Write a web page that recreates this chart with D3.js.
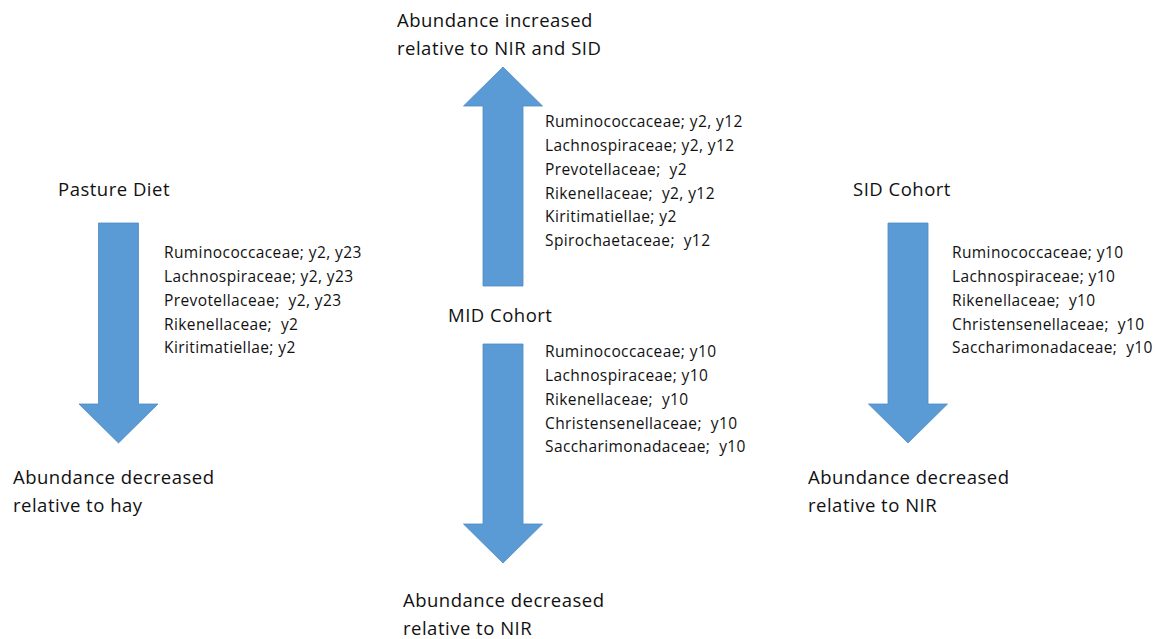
<!DOCTYPE html>
<html><head><meta charset="utf-8">
<script src="https://cdn.jsdelivr.net/npm/d3@7"></script>
<style>body{margin:0;background:#fff}svg{display:block}text{font-family:"Open Sans",Lato,sans-serif;fill:#111}</style>
</head><body><svg id="c" width="1171" height="639"></svg>
<script>
// ---- data ----
const groups = ["Pasture Diet", "MID Cohort (increased)", "MID Cohort (decreased)", "SID Cohort"];
const groupTitles = ["Pasture Diet", null, "MID Cohort", "SID Cohort"];
const directions = ["down", "up", "down", "down"];
const outcomeLabels = [
  ["Abundance decreased", "relative to hay"],
  ["Abundance increased", "relative to NIR and SID"],
  ["Abundance decreased", "relative to NIR"],
  ["Abundance decreased", "relative to NIR"]
];
const pastureTaxa = ["Ruminococcaceae; y2, y23", "Lachnospiraceae; y2, y23", "Prevotellaceae;  y2, y23", "Rikenellaceae;  y2", "Kiritimatiellae; y2"];
const midUpTaxa = ["Ruminococcaceae; y2, y12", "Lachnospiraceae; y2, y12", "Prevotellaceae;  y2", "Rikenellaceae;  y2, y12", "Kiritimatiellae; y2", "Spirochaetaceae;  y12"];
const midDownTaxa = ["Ruminococcaceae; y10", "Lachnospiraceae; y10", "Rikenellaceae;  y10", "Christensenellaceae;  y10", "Saccharimonadaceae;  y10"];
const sidTaxa = ["Ruminococcaceae; y10", "Lachnospiraceae; y10", "Rikenellaceae;  y10", "Christensenellaceae;  y10", "Saccharimonadaceae;  y10"];
const taxaLists = [pastureTaxa, midUpTaxa, midDownTaxa, sidTaxa];

// ---- layout ----
const svg = d3.select("#c");
const color = "#5b9bd5";
const layout = [
  {cx:118.5, y0:223, y1:443, title:[58,190], list:[164,253], label:[13,478]},
  {cx:503,   y0:286, y1:67,  title:null,      list:[545,122], label:[397,21]},
  {cx:503,   y0:344, y1:563, title:[448,316], list:[545,352], label:[403,601]},
  {cx:908,   y0:223, y1:443, title:[853,190], list:[952,253], label:[808,478]}
];
const shaftW = 40, headW = 79, headL = 39;
const listStep = 23.7, labelStep = 27.5;
const bigFont = {size:"18.5px", ls:"0.5px"}, smallFont = {size:"15.5px", ls:"0.4px"};

groups.forEach((g, i) => {
  const L = layout[i];
  const dir = directions[i] === "down" ? 1 : -1;
  const baseY = L.y1 - dir * headL;
  const pts = [
    [L.cx - shaftW/2, L.y0], [L.cx + shaftW/2, L.y0], [L.cx + shaftW/2, baseY],
    [L.cx + headW/2, baseY], [L.cx, L.y1], [L.cx - headW/2, baseY], [L.cx - shaftW/2, baseY]
  ];
  svg.append("path").attr("d", d3.line()(pts) + "Z")
    .attr("fill", color).attr("stroke", "#4f8ac2").attr("stroke-width", 0.8);

  if (groupTitles[i]) {
    svg.append("text").attr("x", L.title[0]).attr("y", L.title[1]).attr("dy", "0.35em")
      .style("font-size", bigFont.size).style("letter-spacing", bigFont.ls).text(groupTitles[i]);
  }
  const ys = d3.scaleLinear().domain([0,1]).range([L.list[1], L.list[1] + listStep]);
  svg.append("g").selectAll("text").data(taxaLists[i]).join("text")
    .attr("x", L.list[0]).attr("y", (d, k) => ys(k)).attr("dy", "0.35em")
    .style("font-size", smallFont.size).style("letter-spacing", smallFont.ls)
    .style("white-space", "pre").attr("xml:space","preserve").text(d => d);
  const yl = d3.scaleLinear().domain([0,1]).range([L.label[1], L.label[1] + labelStep]);
  svg.append("g").selectAll("text").data(outcomeLabels[i]).join("text")
    .attr("x", L.label[0]).attr("y", (d, k) => yl(k)).attr("dy", "0.35em")
    .style("font-size", bigFont.size).style("letter-spacing", bigFont.ls).text(d => d);
});
</script></body></html>
